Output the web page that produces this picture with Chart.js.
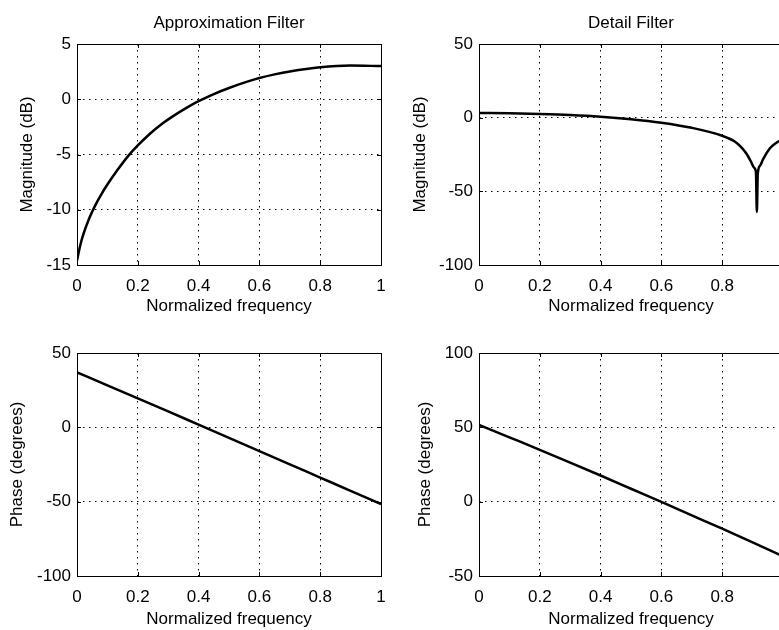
<!DOCTYPE html>
<html>
<head>
<meta charset="utf-8">
<script src="https://cdn.jsdelivr.net/npm/chart.js@4.4.0/dist/chart.umd.min.js"></script>
<style>
  html, body { margin: 0; padding: 0; background: #fff; overflow: hidden; }
  #wrap { position: relative; width: 779px; height: 630px; overflow: hidden; }
  canvas { position: absolute; }
</style>
</head>
<body>
<div id="wrap">
  <canvas id="approx-mag" width="390" height="320" style="left:0;top:0"></canvas>
  <canvas id="detail-mag" width="400" height="320" style="left:390px;top:0"></canvas>
  <canvas id="approx-phase" width="390" height="310" style="left:0;top:320px"></canvas>
  <canvas id="detail-phase" width="400" height="310" style="left:390px;top:320px"></canvas>
</div>
<script>
const xTicks = [0, 0.2, 0.4, 0.6, 0.8, 1];

// approximation filter, magnitude (dB)
const approxMagFreq = [0, 0.01, 0.02, 0.04, 0.06, 0.08, 0.1, 0.13, 0.17, 0.2, 0.24, 0.28, 0.32, 0.36, 0.4, 0.45, 0.5, 0.56, 0.6, 0.65, 0.7, 0.8, 0.9, 1];
const approxMag = [-14.6, -13.3, -12.3, -10.8, -9.6, -8.6, -7.72, -6.52, -5.08, -4.18, -3.12, -2.22, -1.46, -0.78, -0.18, 0.47, 1.02, 1.59, 1.92, 2.25, 2.52, 2.9, 3.05, 3.0];
const approxMagTicks = [-15, -10, -5, 0, 5];

// detail filter, magnitude (dB)
const detailMagFreq = [0, 0.1, 0.2, 0.3, 0.4, 0.5, 0.6, 0.7, 0.8, 0.84, 0.86, 0.88, 0.895, 0.905, 0.911, 0.914, 0.917, 0.925, 0.935, 0.957, 0.975, 1];
const detailMag = [3.2, 3.0, 2.5, 1.8, 0.7, -1.0, -3.4, -6.9, -12.3, -16.0, -19.5, -24.5, -30, -34, -37, -64, -38, -32.5, -28, -20.8, -17.5, -14.5];
const detailMagTicks = [-100, -50, 0, 50];

// phases (degrees)
const phaseFreq = [0, 0.1, 0.2, 0.3, 0.4, 0.5, 0.6, 0.7, 0.8, 0.9, 1];
const approxPhase = [37, 28.2, 19.5, 10.7, 1.8, -7.1, -16.0, -24.9, -33.8, -42.7, -51.7];
const approxPhaseTicks = [-100, -50, 0, 50];
const detailPhase = [51.7, 43.3, 34.9, 26.3, 17.6, 8.7, -0.2, -9.2, -18.2, -27.4, -36.8];
const detailPhaseTicks = [-50, 0, 50, 100];

Chart.defaults.font.family = "'Liberation Sans', Arial, Helvetica, sans-serif";
Chart.defaults.font.size = 17;
Chart.defaults.color = '#000';

// matlab style box with inward tick marks
const frameAndTicks = {
    id: 'frameAndTicks',
    afterDatasetsDraw(chart) {
        const { ctx, chartArea: a, scales } = chart;
        const len = 4;
        ctx.save();
        ctx.strokeStyle = '#000';
        ctx.lineWidth = 1;
        ctx.beginPath();
        scales.x.ticks.forEach(t => {
            const px = Math.round(scales.x.getPixelForValue(t.value)) + 0.5;
            ctx.moveTo(px, a.bottom); ctx.lineTo(px, a.bottom - len);
            ctx.moveTo(px, a.top); ctx.lineTo(px, a.top + len);
        });
        scales.y.ticks.forEach(t => {
            const py = Math.round(scales.y.getPixelForValue(t.value)) + 0.5;
            ctx.moveTo(a.left, py); ctx.lineTo(a.left + len, py);
            ctx.moveTo(a.right, py); ctx.lineTo(a.right - len, py);
        });
        ctx.stroke();
        ctx.strokeRect(Math.round(a.left) + 0.5, Math.round(a.top) + 0.5, Math.round(a.width), Math.round(a.height));
        ctx.restore();
    }
};

const gridColor = c => (c.tick && (c.index === 0 || c.index === c.scale.ticks.length - 1)) ? 'rgba(0,0,0,0)' : '#000';

function makePanel(id, p) {
    return new Chart(document.getElementById(id), {
        type: 'line',
        data: {
            datasets: [{
                data: p.freq.map((f, i) => ({ x: f, y: p.values[i] })),
                borderColor: '#000',
                borderWidth: 2.5,
                pointRadius: 0,
                cubicInterpolationMode: 'monotone',
                fill: false
            }]
        },
        options: {
            responsive: false,
            animation: false,
            devicePixelRatio: 1,
            layout: { padding: p.pad },
            plugins: {
                legend: { display: false },
                tooltip: { enabled: false },
                title: {
                    display: !!p.title,
                    text: p.title || '',
                    fullSize: false,
                    font: { size: 17, weight: 'normal', lineHeight: 1.2 },
                    padding: { top: 12.8, bottom: 10.8 }
                }
            },
            scales: {
                x: {
                    type: 'linear',
                    min: 0,
                    max: 1,
                    afterBuildTicks: s => { s.ticks = xTicks.map(v => ({ value: v })); },
                    afterFit: s => { s.height = p.xAxisHeight; },
                    // label offset comes from an invisible tick, so the side padding stays small
                    ticks: { padding: 0, maxRotation: 0, autoSkip: false, callback: v => String(v) },
                    grid: { color: gridColor, drawTicks: true, tickLength: 11, tickColor: 'rgba(0,0,0,0)', lineWidth: 1 },
                    border: { display: false, dash: [1.5, 4.5] },
                    title: {
                        display: true,
                        text: 'Normalized frequency',
                        font: { lineHeight: 1.2 },
                        padding: { top: 0, bottom: p.xTitlePad }
                    }
                },
                y: {
                    type: 'linear',
                    min: p.yTicks[0],
                    max: p.yTicks[p.yTicks.length - 1],
                    afterBuildTicks: s => { s.ticks = p.yTicks.map(v => ({ value: v })); },
                    afterFit: s => { s.width = p.yAxisWidth; },
                    ticks: { padding: 6, autoSkip: false, callback: v => String(v) },
                    grid: { color: gridColor, drawTicks: false, lineWidth: 1 },
                    border: { display: false, dash: [1.5, 4.5] },
                    title: {
                        display: true,
                        text: p.yTitle,
                        font: { lineHeight: 1.2 },
                        padding: { top: p.yTitlePad, bottom: 0 }
                    }
                }
            }
        },
        plugins: [frameAndTicks]
    });
}

makePanel('approx-mag', {
    title: 'Approximation Filter',
    yTitle: 'Magnitude (dB)',
    freq: approxMagFreq,
    values: approxMag,
    yTicks: approxMagTicks,
    pad: { left: 0, right: 9, top: 0, bottom: 0 },
    yAxisWidth: 77,
    xAxisHeight: 55,
    yTitlePad: 16.8,
    xTitlePad: 3.8
});

makePanel('detail-mag', {
    title: 'Detail Filter',
    yTitle: 'Magnitude (dB)',
    freq: detailMagFreq,
    values: detailMag,
    yTicks: detailMagTicks,
    pad: { left: 0, right: 7, top: 0, bottom: 0 },
    yAxisWidth: 89,
    xAxisHeight: 55,
    yTitlePad: 19.8,
    xTitlePad: 3.8
});

makePanel('approx-phase', {
    yTitle: 'Phase (degrees)',
    freq: phaseFreq,
    values: approxPhase,
    yTicks: approxPhaseTicks,
    pad: { left: 0, right: 9, top: 33, bottom: 0 },
    yAxisWidth: 77,
    xAxisHeight: 54,
    yTitlePad: 6.8,
    xTitlePad: 0
});

makePanel('detail-phase', {
    yTitle: 'Phase (degrees)',
    freq: phaseFreq,
    values: detailPhase,
    yTicks: detailPhaseTicks,
    pad: { left: 0, right: 7, top: 33, bottom: 0 },
    yAxisWidth: 89,
    xAxisHeight: 54,
    yTitlePad: 24.8,
    xTitlePad: 0
});
</script>
</body>
</html>
